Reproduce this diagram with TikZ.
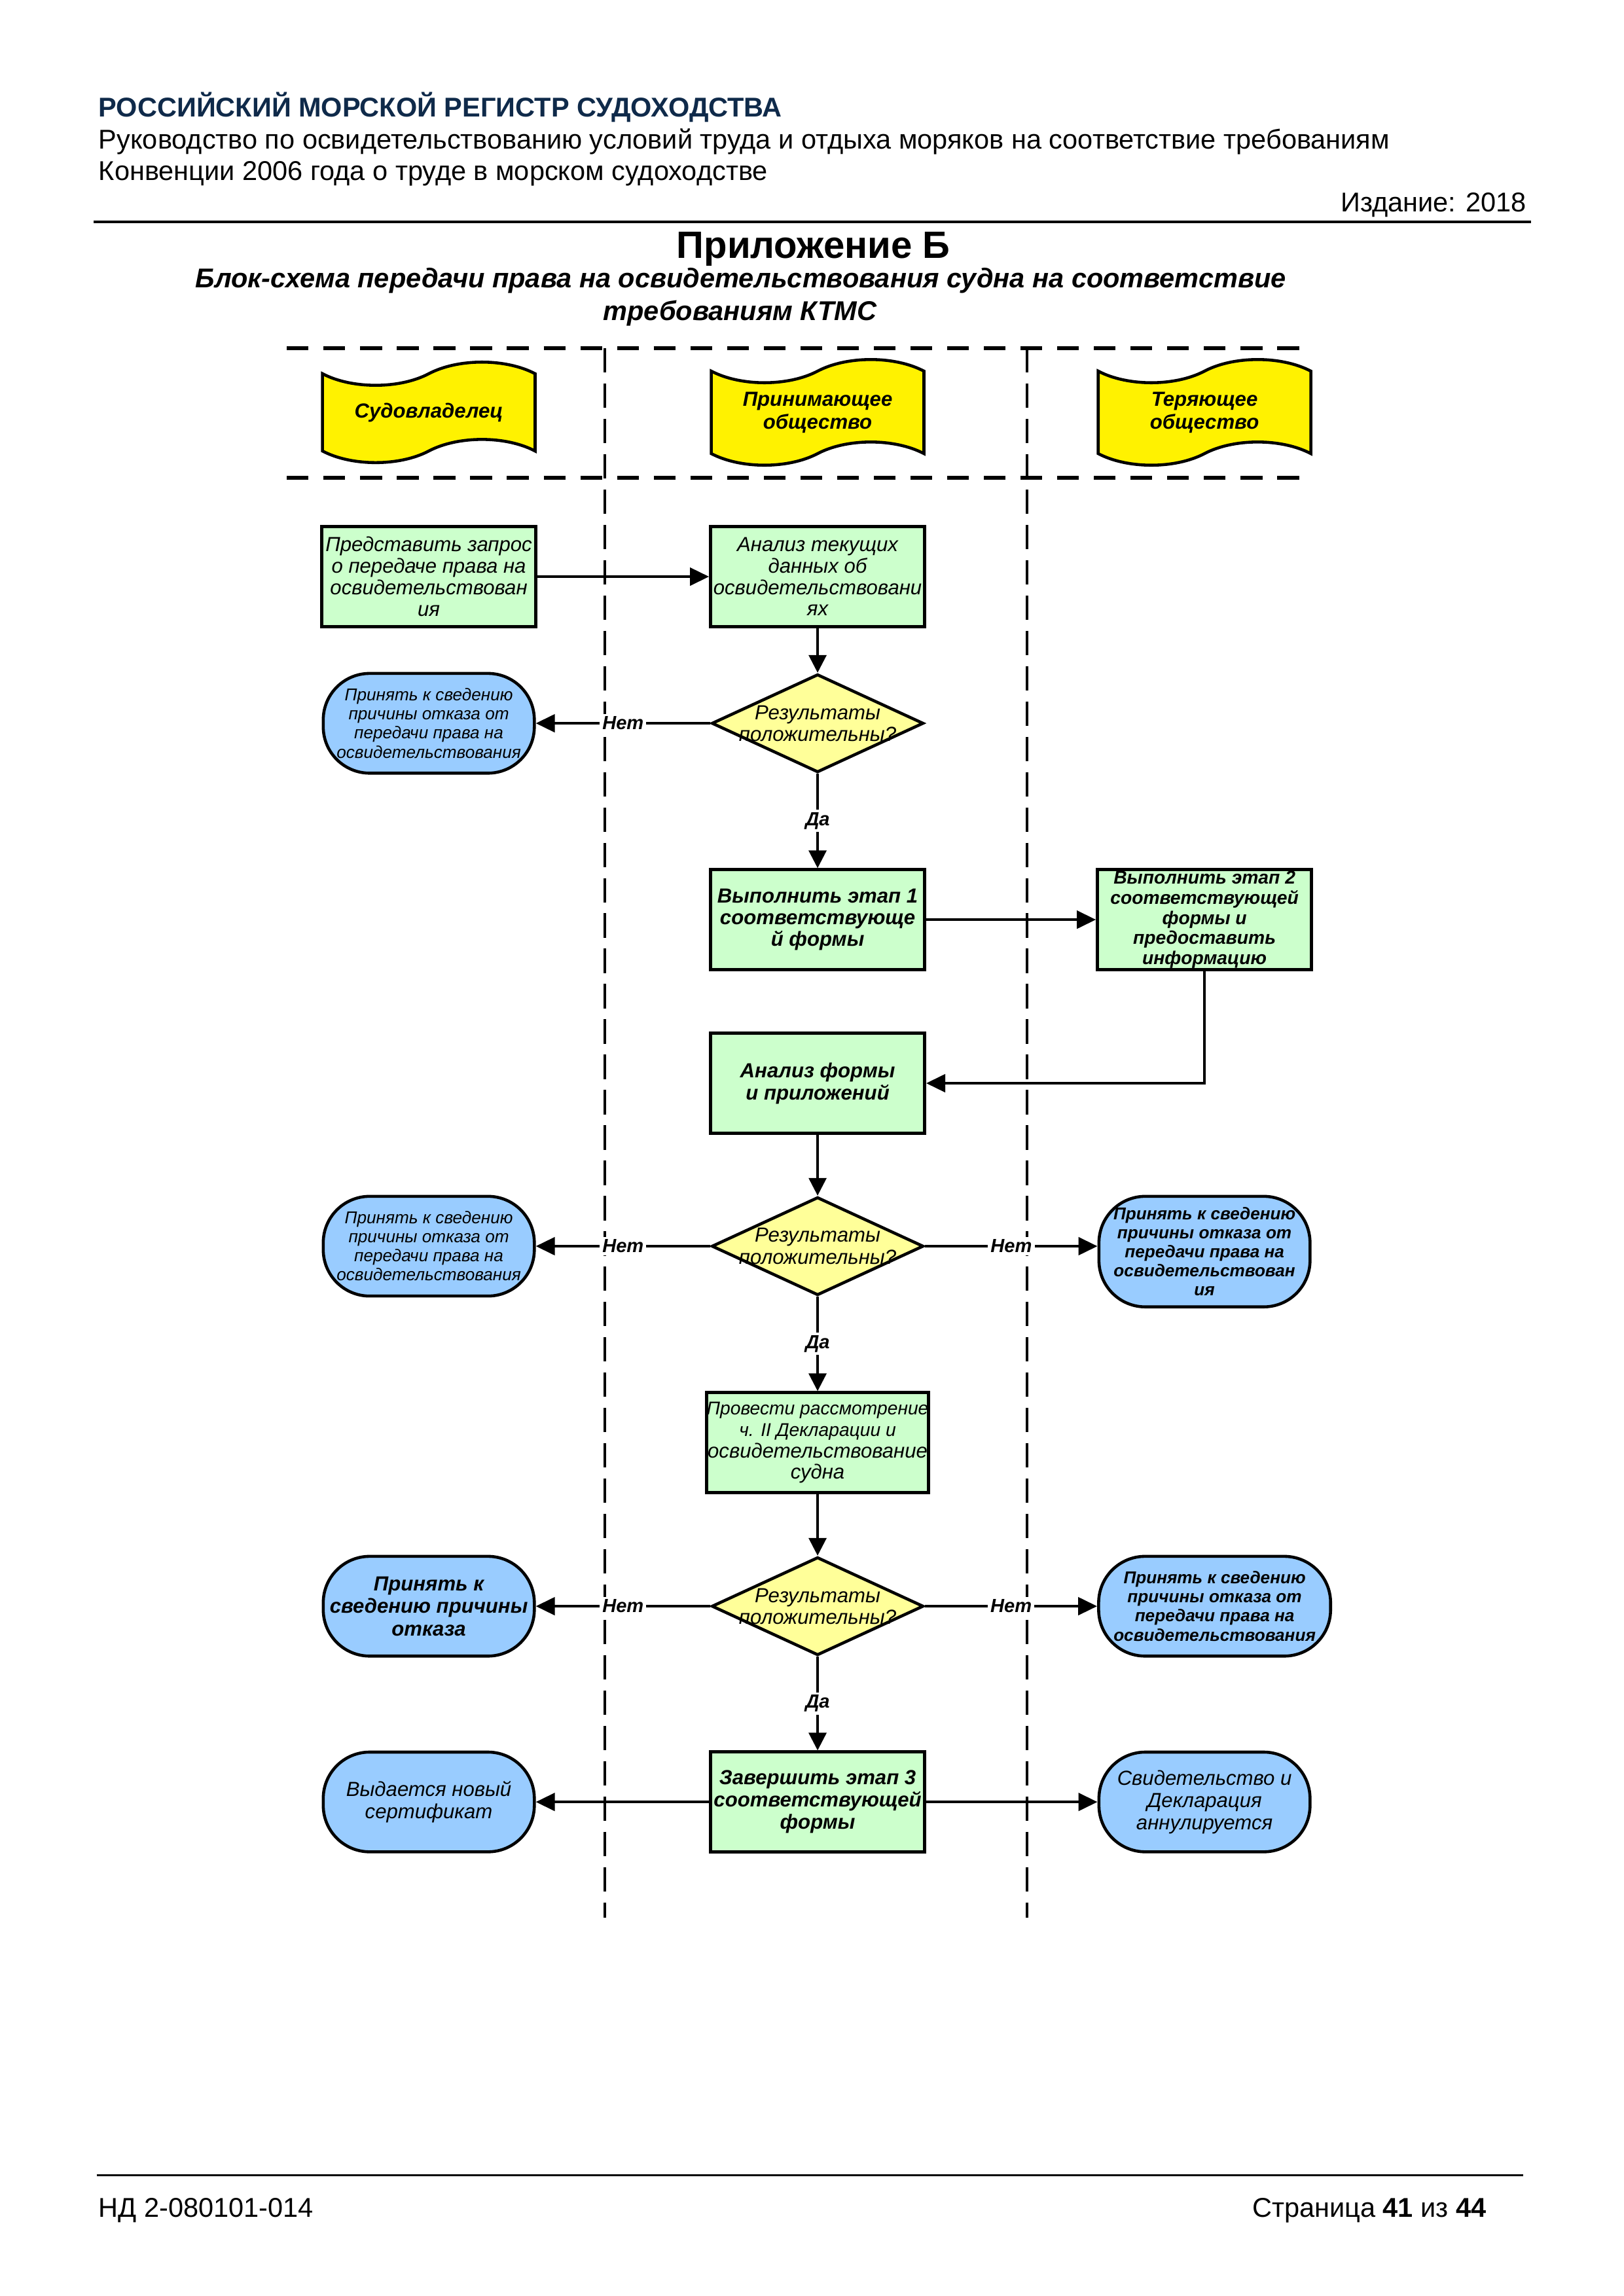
\documentclass[tikz,border=0pt]{standalone}
\usepackage{fontspec}
\setmainfont{Liberation Sans}
\usetikzlibrary{shapes.geometric,shapes.symbols,arrows.meta}

\definecolor{regnavy}{HTML}{0F2A4A}
\definecolor{boxgreen}{HTML}{CCFFCC}
\definecolor{termblue}{HTML}{99CCFF}
\definecolor{diayellow}{HTML}{FFFF99}

\tikzset{
  lanehead/.style={tape, draw, line width=1.1pt, fill=yellow, minimum width=2.75cm,
    minimum height=1.3cm, tape bend height=0.3cm, align=center,
    font=\fontsize{7.5}{8.5}\selectfont\bfseries\itshape},
  procbox/.style={rectangle, draw, line width=1.1pt, fill=boxgreen, minimum width=2.77cm,
    minimum height=1.295cm, inner sep=1pt, align=center,
    font=\fontsize{7.5}{7.9}\selectfont\itshape},
  decision/.style={diamond, draw, line width=1.1pt, fill=diayellow, minimum width=2.74cm,
    minimum height=1.27cm, inner sep=0pt},
  dectext/.style={align=center, font=\fontsize{7.5}{8}\selectfont\itshape},
  terminal/.style={rectangle, rounded corners=0.6cm, draw, line width=1.1pt, fill=termblue,
    minimum width=2.73cm, minimum height=1.29cm, inner sep=0pt, align=center,
    font=\fontsize{6.3}{7}\selectfont\itshape},
  flowh/.style={line width=1.1pt, -{Triangle[length=7pt,width=6.5pt]}},
  flowv/.style={line width=0.8pt, -{Triangle[length=6.5pt,width=6.5pt]}},
  answer/.style={fill=white, inner sep=1pt, font=\fontsize{7}{8}\selectfont\bfseries\itshape},
  laneline/.style={line width=1.3pt, dash pattern=on 8pt off 5.5pt},
  lanesep/.style={line width=0.85pt, dash pattern=on 9pt off 4pt},
  headtext/.style={inner sep=0pt, font=\fontsize{10}{12}\selectfont}
}

\begin{document}
\begin{tikzpicture}
\useasboundingbox (0,0) rectangle (21,-29.7);

% Page header
\node[headtext, anchor=base west, text=regnavy, font=\bfseries\fontsize{10}{12}\selectfont] (register) at (1.27,-1.515) {РОССИЙСКИЙ МОРСКОЙ РЕГИСТР СУДОХОДСТВА};
\node[headtext, anchor=base west] (guide1) at (1.27,-1.93) {Руководство по освидетельствованию условий труда и отдыха моряков на соответствие требованиям};
\node[headtext, anchor=base west] (guide2) at (1.27,-2.33) {Конвенции 2006 года о труде в морском судоходстве};
\node[headtext, anchor=base east] (edition) at (19.75,-2.74) {Издание: 2018};
\draw[line width=0.8pt] (1.21,-2.87) -- (19.80,-2.87);

% Title
\node[inner sep=0pt, anchor=base, font=\bfseries\fontsize{14}{16}\selectfont] (annex) at (10.52,-3.336) {Приложение Б};
\node[inner sep=0pt, anchor=base, font=\bfseries\itshape\fontsize{10}{12}\selectfont] (subtitle1) at (9.58,-3.725) {Блок-схема передачи права на освидетельствования судна на соответствие};
\node[inner sep=0pt, anchor=base, font=\bfseries\itshape\fontsize{10}{12}\selectfont] (subtitle2) at (9.57,-4.14) {требованиям КТМС};

% Swimlanes
\draw[laneline] (3.71,-4.504) -- (16.92,-4.504);
\draw[laneline] (3.71,-6.181) -- (16.92,-6.181);
\draw[lanesep] (7.823,-4.504) -- (7.823,-24.807);
\draw[lanesep] (13.284,-4.504) -- (13.284,-24.807);

\node[lanehead] (owner) at (5.546,-5.334) {Судовладелец};
\node[lanehead] (gaining) at (10.575,-5.334) {Принимающее\\общество};
\node[lanehead] (losing) at (15.579,-5.334) {Теряющее\\общество};

% Request and first check
\node[procbox] (request) at (5.546,-7.459) {Представить запрос\\о передаче права на\\освидетельствован\\ия};
\node[procbox] (analysis) at (10.575,-7.459) {Анализ текущих\\данных об\\освидетельствовани\\ях};
\node[decision] (check1) at (10.575,-9.356) {};
\node[dectext] (check1t) at (check1) {Результаты\\положительны?};
\node[terminal] (reject1) at (5.546,-9.356) {Принять к сведению\\причины отказа от\\передачи права на\\освидетельствования};

% Stages 1 and 2
\node[procbox, font=\fontsize{7.5}{7.9}\selectfont\bfseries\itshape] (stage1) at (10.575,-11.896) {Выполнить этап 1\\соответствующе\\й формы};
\node[procbox, inner sep=0pt, font=\fontsize{6.8}{7.4}\selectfont\bfseries\itshape] (stage2) at (15.579,-11.896) {Выполнить этап 2\\соответствующей\\формы и\\предоставить\\информацию};
\node[procbox, font=\fontsize{7.5}{8.2}\selectfont\bfseries\itshape] (formcheck) at (10.575,-14.012) {Анализ формы\\и приложений};

% Second check
\node[decision] (check2) at (10.575,-16.120) {};
\node[dectext] (check2t) at (check2) {Результаты\\положительны?};
\node[terminal] (reject2) at (5.546,-16.120) {Принять к сведению\\причины отказа от\\передачи права на\\освидетельствования};
\node[terminal, minimum height=1.43cm, font=\fontsize{6.3}{7}\selectfont\bfseries\itshape] (reject2r) at (15.579,-16.19) {Принять к сведению\\причины отказа от\\передачи права на\\освидетельствован\\ия};

% Survey and third check
\node[procbox, inner sep=0pt] (survey) at (10.575,-18.661) {\fontsize{6.8}{7.7}\selectfont Провести рассмотрение\\\fontsize{6.8}{7.7}\selectfont ч. II Декларации и\\\fontsize{7.5}{7.9}\selectfont освидетельствование\\\fontsize{7.5}{7.9}\selectfont судна};
\node[decision] (check3) at (10.575,-20.777) {};
\node[dectext] (check3t) at (check3) {Результаты\\положительны?};
\node[terminal, font=\fontsize{7.5}{8.3}\selectfont\bfseries\itshape] (reject3) at (5.546,-20.777) {Принять к\\сведению причины\\отказа};
\node[terminal, minimum width=3.0cm, font=\fontsize{6.3}{7}\selectfont\bfseries\itshape] (reject3r) at (15.71,-20.777) {Принять к сведению\\причины отказа от\\передачи права на\\освидетельствования};

% Stage 3 and results
\node[procbox, font=\fontsize{7.5}{8.2}\selectfont\bfseries\itshape] (stage3) at (10.575,-23.309) {Завершить этап 3\\соответствующей\\формы};
\node[terminal, font=\fontsize{7.5}{8.2}\selectfont\itshape] (newcert) at (5.546,-23.309) {Выдается новый\\сертификат};
\node[terminal, font=\fontsize{7.5}{8.2}\selectfont\itshape] (cancel) at (15.579,-23.309) {Свидетельство и\\Декларация\\аннулируется};

% Connectors
\draw[flowh] (request.east) -- (analysis.west);
\draw[flowv] (analysis.south) -- (check1.north);
\draw[flowh] (check1.west) -- node[answer] (no1) {Нет} (reject1.east);
\draw[flowv] (check1.south) -- node[answer] (yes1) {Да} (stage1.north);
\draw[flowh] (stage1.east) -- (stage2.west);
\draw[flowh] (stage2.south) |- (formcheck.east);
\draw[flowv] (formcheck.south) -- (check2.north);
\draw[flowh] (check2.west) -- node[answer] (no2) {Нет} (reject2.east);
\draw[flowh] (check2.east) -- node[answer] (no2r) {Нет} (check2.east -| reject2r.west);
\draw[flowv] (check2.south) -- node[answer] (yes2) {Да} (survey.north);
\draw[flowv] (survey.south) -- (check3.north);
\draw[flowh] (check3.west) -- node[answer] (no3) {Нет} (reject3.east);
\draw[flowh] (check3.east) -- node[answer] (no3r) {Нет} (reject3r.west);
\draw[flowv] (check3.south) -- node[answer] (yes3) {Да} (stage3.north);
\draw[flowh] (stage3.west) -- (newcert.east);
\draw[flowh] (stage3.east) -- (cancel.west);

% Page footer
\draw[line width=0.8pt] (1.25,-28.14) -- (19.70,-28.14);
\node[headtext, anchor=base west] (docno) at (1.27,-28.68) {НД 2-080101-014};
\node[headtext, anchor=base east] (pageno) at (19.23,-28.68) {Страница \textbf{41} из \textbf{44}};
\end{tikzpicture}
\end{document}
